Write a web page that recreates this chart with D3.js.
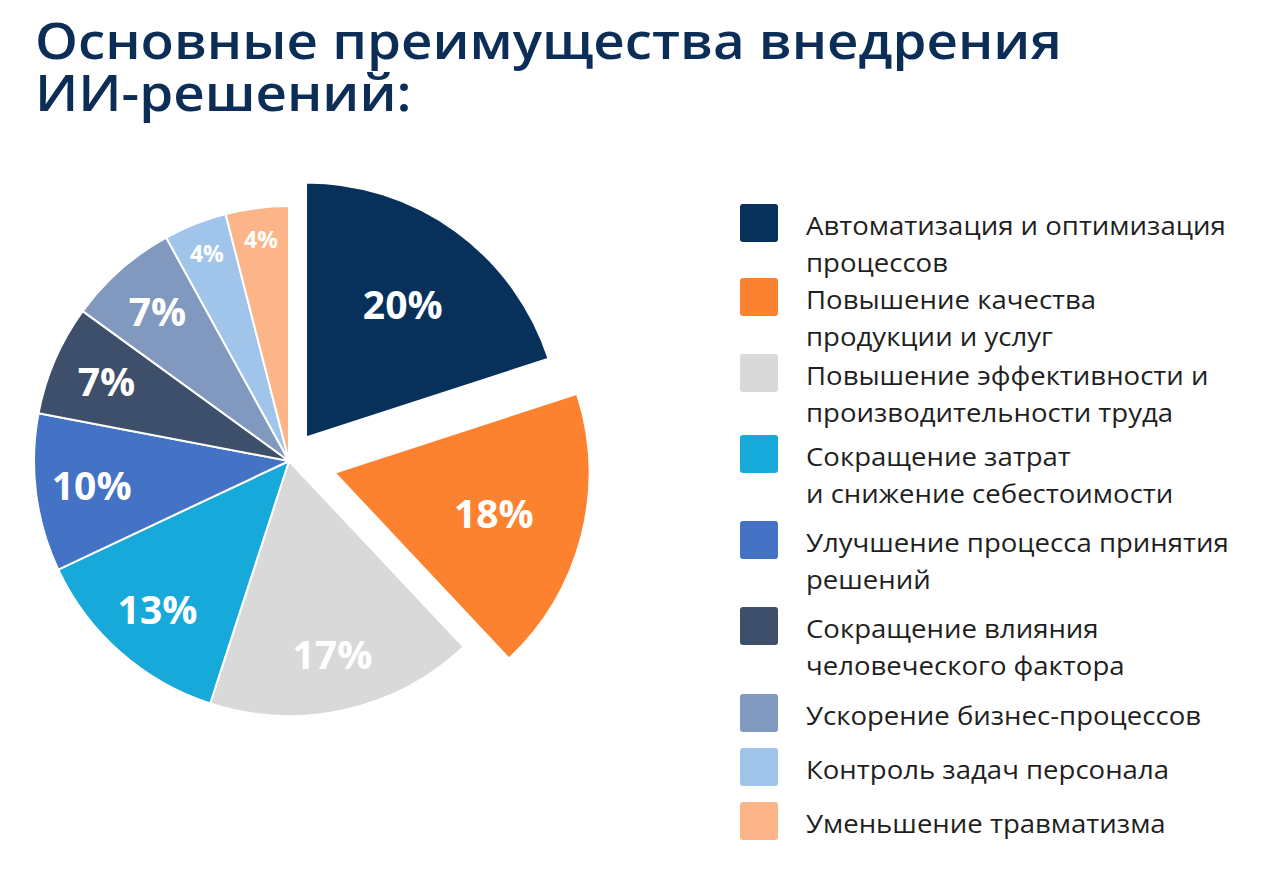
<!DOCTYPE html>
<html>
<head>
<meta charset="utf-8">
<script src="https://cdn.jsdelivr.net/npm/d3@7"></script>
<style>
  html, body { margin: 0; padding: 0; background: #ffffff; }
  svg { display: block; }
</style>
</head>
<body>
<svg id="chart" width="1280" height="894"></svg>
<script>
// ---- data ----
const titleLines = ["Основные преимущества внедрения", "ИИ-решений:"];
const categories = [
  "Автоматизация и оптимизация\nпроцессов",
  "Повышение качества\nпродукции и услуг",
  "Повышение эффективности и\nпроизводительности труда",
  "Сокращение затрат\nи снижение себестоимости",
  "Улучшение процесса принятия\nрешений",
  "Сокращение влияния\nчеловеческого фактора",
  "Ускорение бизнес-процессов",
  "Контроль задач персонала",
  "Уменьшение травматизма"
];
const values = [20, 18, 17, 13, 10, 7, 7, 4, 4];
const colors = ["#07305a", "#fd8230", "#d9d9d9", "#18a9db", "#4472c4", "#3d4f6a", "#8199be", "#a1c5ea", "#fcb589"];

// ---- layout ----
const W = 1280, H = 894;
const cx = 289, cy = 461, R = 255;
const explodeDist = [29, 47, 0, 0, 0, 0, 0, 0, 0];
const legendBaselines = [235, 309, 385, 466, 552, 638, 725, 779, 833];
const legendX = 740, legendTextX = 806, legendLineH = 37, swatch = 38;

const svg = d3.select("#chart");

// title (one text element per line)
const titleG = svg.append("g").attr("transform", "translate(35,0)");
const titleTexts = titleG.selectAll("text").data(titleLines).join("text")
  .attr("font-family", "'Open Sans', sans-serif")
  .attr("font-weight", 600)
  .attr("font-size", 51)
  .attr("fill", "#0c2d56")
  .attr("x", 0)
  .attr("y", (d, i) => 59 + i * 52)
  .text(d => d);
{
  const tmp = titleTexts.filter((d, i) => i === 0).node().getComputedTextLength();
  const sx = 1027 / tmp;
  titleG.attr("transform", `translate(35,0) scale(${sx},1)`);
}

// pie
const pie = d3.pie().sort(null).value(d => d).startAngle(0).endAngle(2 * Math.PI);
const arcs = pie(values);
const arc = d3.arc().innerRadius(0).outerRadius(R);

const pieG = svg.append("g").attr("transform", `translate(${cx},${cy})`);
const slice = pieG.selectAll("g.slice").data(arcs).join("g")
  .attr("class", "slice")
  .attr("transform", (d, i) => {
    const m = (d.startAngle + d.endAngle) / 2;
    const k = explodeDist[i];
    return `translate(${k * Math.sin(m)},${-k * Math.cos(m)})`;
  });

slice.append("path")
  .attr("d", arc)
  .attr("fill", (d, i) => colors[i])
  .attr("stroke", "#ffffff")
  .attr("stroke-width", 2)
  .attr("stroke-linejoin", "round");

slice.append("text")
  .attr("transform", (d, i) => {
    let f;
    if (explodeDist[i] > 0) f = 0.645;
    else if (d.data < 5) f = 0.875;
    else f = 0.78;
    const la = d3.arc().innerRadius(R * f).outerRadius(R * f);
    const [x, y] = la.centroid(d);
    return `translate(${x},${y})`;
  })
  .attr("text-anchor", "middle")
  .attr("dy", "0.36em")
  .attr("font-family", "'Open Sans', sans-serif")
  .attr("font-weight", 700)
  .attr("font-size", d => d.data < 5 ? 23 : 39)
  .attr("fill", "#ffffff")
  .text(d => d.data + "%");

// legend
const legendG = svg.append("g");
const items = legendG.selectAll("g.item").data(categories).join("g")
  .attr("class", "item");

items.append("rect")
  .attr("x", legendX)
  .attr("y", (d, i) => legendBaselines[i] - 31)
  .attr("width", swatch)
  .attr("height", swatch)
  .attr("rx", 3)
  .attr("fill", (d, i) => colors[i]);

const textG = legendG.append("g");
const lt = textG.selectAll("text").data(categories).join("text")
  .attr("font-family", "'Open Sans', sans-serif")
  .attr("font-weight", 400)
  .attr("font-size", 25)
  .attr("fill", "#1f1f1f");
lt.selectAll("tspan").data((d, i) => d.split("\n").map((t, j) => ({ t, j, i }))).join("tspan")
  .attr("x", 0)
  .attr("y", d => legendBaselines[d.i] + d.j * legendLineH)
  .text(d => d.t);
{
  const w = lt.filter((d, i) => i === 0).select("tspan").node().getComputedTextLength();
  const sx = 420 / w;
  textG.attr("transform", `translate(${legendTextX},0) scale(${sx},1)`);
}
</script>
</body>
</html>
